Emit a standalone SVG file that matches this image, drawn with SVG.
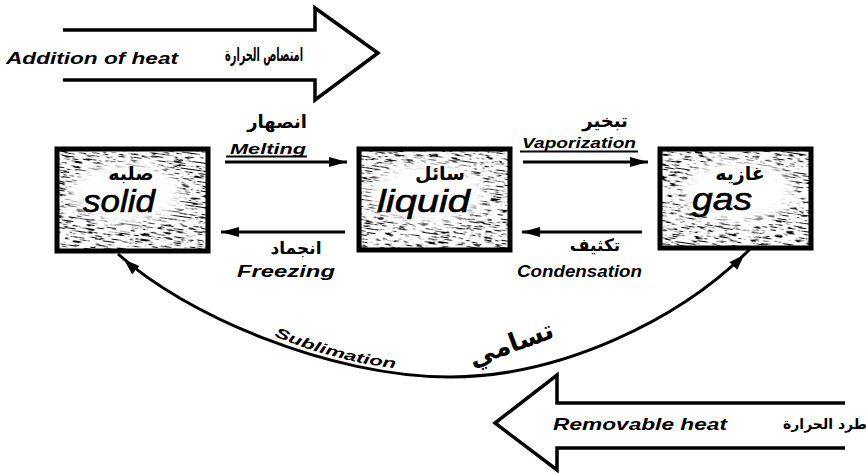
<svg xmlns="http://www.w3.org/2000/svg" width="866" height="473" viewBox="0 0 866 473">
  <style>
    .en { font-family: "Liberation Sans", Arial, sans-serif; font-style: italic; font-weight: bold; fill: #000; }
    .ar { font-family: "DejaVu Sans", sans-serif; font-weight: bold; fill: #000; text-anchor: middle; }
    .state { font-family: "Liberation Sans", Arial, sans-serif; font-style: italic; font-size: 31px; fill: #000; stroke: #000; stroke-width: 0.6; }
    .frame { fill: none; stroke: #000; stroke-width: 5; }
    .line { fill: none; stroke: #000; stroke-width: 3; }
    .big { fill: none; stroke: #000; stroke-width: 3.5; stroke-linejoin: miter; }
    .glow { fill: #fff; filter: url(#soft); }
  </style>
  <defs>
    <!-- streaky print texture for the state boxes -->
    <filter id="grain" x="0" y="0" width="1" height="1">
      <feTurbulence type="fractalNoise" baseFrequency="0.09 0.75" numOctaves="3" seed="5"/>
      <feColorMatrix type="matrix" values="0 0 0 0 0  0 0 0 0 0  0 0 0 0 0  -7 0 0 0 3.15"/>
      <feComposite in2="SourceGraphic" operator="in"/>
    </filter>
    <filter id="soft" x="-50%" y="-50%" width="200%" height="200%">
      <feGaussianBlur stdDeviation="6"/>
    </filter>
    <clipPath id="cSolid"><rect x="57" y="149" width="151" height="102"/></clipPath>
    <clipPath id="cLiquid"><rect x="359" y="149" width="151" height="101"/></clipPath>
    <clipPath id="cGas"><rect x="660" y="149" width="151" height="99"/></clipPath>
    <marker id="head" markerUnits="userSpaceOnUse" markerWidth="20" markerHeight="12" refX="18" refY="0" viewBox="0 -6 20 12" orient="auto-start-reverse">
      <path d="M0,-5 L18,0 L0,5 z" fill="#000"/>
    </marker>
    <marker id="headIn" markerUnits="userSpaceOnUse" markerWidth="30" markerHeight="14" refX="24" refY="0" viewBox="0 -7 30 14" orient="auto-start-reverse">
      <path d="M0,-5.5 L16,0 L0,5.5 z" fill="#000"/>
    </marker>
    <path id="sublPath" d="M274,336 Q340,364 412,370"/>
  </defs>

  <!-- heat flow arrows -->
  <g id="addition-of-heat">
    <path class="big" d="M63,30 H315 V8 L378,53 L315,100 V80 H63"/>
    <text class="en" x="6" y="64" font-size="17" textLength="172" lengthAdjust="spacingAndGlyphs">Addition of heat</text>
    <text class="ar" x="264" y="61" font-size="19" textLength="78" lengthAdjust="spacingAndGlyphs">امتصاص الحرارة</text>
  </g>
  <g id="removable-heat">
    <path class="big" d="M845,403 H557 V375 L495,423 L557,470 V448 H845"/>
    <text class="en" x="553" y="430" font-size="17" textLength="174" lengthAdjust="spacingAndGlyphs">Removable heat</text>
    <text class="ar" x="825" y="429" font-size="14">طرد الحرارة</text>
  </g>

  <!-- states -->
  <g id="solid">
    <g clip-path="url(#cSolid)">
      <rect x="30" y="120" width="210" height="160" fill="#000" filter="url(#grain)" transform="rotate(8 132 200)"/>
      <ellipse class="glow" cx="126" cy="193" rx="56" ry="30"/>
      <ellipse class="glow" cx="126" cy="193" rx="44" ry="22"/>
    </g>
    <rect class="frame" x="57" y="149" width="151" height="102"/>
    <text class="ar" x="131" y="180" font-size="19">صلبه</text>
    <text class="state" x="83" y="212" textLength="72" lengthAdjust="spacingAndGlyphs">solid</text>
  </g>
  <g id="liquid">
    <g clip-path="url(#cLiquid)">
      <rect x="332" y="120" width="210" height="160" fill="#000" filter="url(#grain)" transform="rotate(8 434 200)"/>
      <ellipse class="glow" cx="428" cy="193" rx="58" ry="30"/>
      <ellipse class="glow" cx="428" cy="193" rx="46" ry="22"/>
    </g>
    <rect class="frame" x="359" y="149" width="151" height="101"/>
    <text class="ar" x="440" y="180" font-size="19">سائل</text>
    <text class="state" x="377" y="212" textLength="93" lengthAdjust="spacingAndGlyphs">liquid</text>
  </g>
  <g id="gas">
    <g clip-path="url(#cGas)">
      <rect x="633" y="118" width="210" height="160" fill="#000" filter="url(#grain)" transform="rotate(8 735 198)"/>
      <ellipse class="glow" cx="738" cy="191" rx="56" ry="30"/>
      <ellipse class="glow" cx="738" cy="191" rx="44" ry="22"/>
    </g>
    <rect class="frame" x="660" y="149" width="151" height="99"/>
    <text class="ar" x="740" y="180" font-size="19">غازيه</text>
    <text class="state" x="692" y="210" textLength="60" lengthAdjust="spacingAndGlyphs">gas</text>
  </g>

  <!-- transitions -->
  <g id="connectors">
    <line class="line" x1="225" y1="162" x2="347" y2="162" marker-end="url(#head)"/>
    <line class="line" x1="345" y1="232" x2="221" y2="232" marker-end="url(#head)"/>
    <line class="line" x1="523" y1="162" x2="648" y2="162" marker-end="url(#head)"/>
    <line class="line" x1="642" y1="232" x2="522" y2="232" marker-end="url(#head)"/>
    <path class="line" d="M118,254 C185,315 330,377 450,377 C560,377 680,320 750,249" marker-start="url(#headIn)" marker-end="url(#headIn)"/>
  </g>

  <g id="labels">
    <text class="ar" x="277" y="128" font-size="18">انصهار</text>
    <text class="en" x="230" y="154" font-size="14" textLength="76" lengthAdjust="spacingAndGlyphs">Melting</text>
    <line x1="226" y1="156.5" x2="307" y2="156.5" stroke="#000" stroke-width="1.8"/>

    <text class="ar" x="605" y="127" font-size="18">تبخير</text>
    <text class="en" x="522" y="148" font-size="14" textLength="114" lengthAdjust="spacingAndGlyphs">Vaporization</text>
    <line x1="520" y1="151.5" x2="638" y2="151.5" stroke="#000" stroke-width="1.8"/>

    <text class="ar" x="296" y="254" font-size="17">انجماد</text>
    <text class="en" x="237" y="277" font-size="16" textLength="98" lengthAdjust="spacingAndGlyphs">Freezing</text>

    <text class="ar" x="595" y="251" font-size="17">تكثيف</text>
    <text class="en" x="517" y="277" font-size="16" textLength="125" lengthAdjust="spacingAndGlyphs">Condensation</text>

    <text class="en" font-size="14"><textPath href="#sublPath" textLength="126" lengthAdjust="spacingAndGlyphs">Sublimation</textPath></text>
    <text class="ar" x="0" y="0" font-size="26" transform="translate(514 352) rotate(-20)">تسامي</text>
  </g>
</svg>
